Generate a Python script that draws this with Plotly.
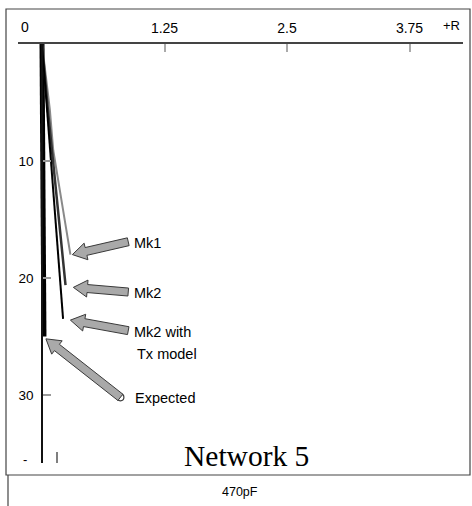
import plotly.graph_objects as go

# Impedance loci for network 5 (R horizontal, -X downward)
expected_r = [0.0, 0.02]
expected_x = [0.0, 25.0]
mk1_r = [0.0, 0.08, 0.115, 0.29]
mk1_x = [0.0, 5.6, 9.1, 18.0]
mk2_r = [0.0, 0.06, 0.24]
mk2_x = [0.0, 5.6, 20.6]
mk2tx_r = [0.0, 0.215]
mk2tx_x = [0.0, 23.5]

x_tick_vals = [1.25, 2.5, 3.75]
x_tick_text = ["1.25", "2.5", "3.75"]
y_tick_vals = [10, 20, 30]
y_tick_text = ["10", "20", "30"]

# Callouts: (label lines, arrow tip (R, X), arrow tail (R, X), text gap in px)
callouts = [
    (["Mk1"], (0.31, 18.0), (0.88, 16.9), 4),
    (["Mk2"], (0.32, 20.8), (0.88, 21.2), 4),
    (["Mk2 with", "Tx model"], (0.29, 23.6), (0.88, 24.5), 4),
    (["Expected"], (0.04, 25.2), (0.80, 30.2), 13),
]

W, H = 472, 506
ML, MR, MT, MB = 18, 9, 44, 43
PW, PH = W - ML - MR, H - MT - MB
X_RANGE = [-24 / 98, (PW - 24) / 98]
Y_RANGE = [PH / 11.7, 0]

SANS = "Liberation Sans, Arial, sans-serif"
SERIF = "Liberation Serif, Times New Roman, serif"


def to_px(xv, yv):
    px = ML + (xv - X_RANGE[0]) / (X_RANGE[1] - X_RANGE[0]) * PW
    py = MT + (yv - Y_RANGE[1]) / (Y_RANGE[0] - Y_RANGE[1]) * PH
    return px, py


def to_data(px, py):
    xv = X_RANGE[0] + (px - ML) / PW * (X_RANGE[1] - X_RANGE[0])
    yv = Y_RANGE[1] + (py - MT) / PH * (Y_RANGE[0] - Y_RANGE[1])
    return xv, yv


def px_paper(px, py):
    return (px - ML) / PW, (H - MB - py) / PH


def block_arrow(tip, tail, shaft=4.0, head=8.5, head_len=14.0):
    tx, ty = to_px(*tip)
    sx, sy = to_px(*tail)
    dx, dy = tx - sx, ty - sy
    n = (dx * dx + dy * dy) ** 0.5
    ux, uy = dx / n, dy / n
    nx, ny = -uy, ux
    bx, by = tx - ux * head_len, ty - uy * head_len
    pts = [
        (sx + nx * shaft, sy + ny * shaft),
        (bx + nx * shaft, by + ny * shaft),
        (bx + nx * head, by + ny * head),
        (tx, ty),
        (bx - nx * head, by - ny * head),
        (bx - nx * shaft, by - ny * shaft),
        (sx - nx * shaft, sy - ny * shaft),
    ]
    d = [to_data(*p) for p in pts]
    return "M " + " L ".join(f"{a:.5f},{b:.5f}" for a, b in d) + " Z"


fig = go.Figure()
fig.add_trace(go.Scatter(x=expected_r, y=expected_x, mode="lines",
                         line=dict(color="#000000", width=5), name="Expected"))
fig.add_trace(go.Scatter(x=mk1_r, y=mk1_x, mode="lines",
                         line=dict(color="#8a8a8a", width=2), name="Mk1"))
fig.add_trace(go.Scatter(x=mk2_r, y=mk2_x, mode="lines",
                         line=dict(color="#333333", width=2.5), name="Mk2"))
fig.add_trace(go.Scatter(x=mk2tx_r, y=mk2tx_x, mode="lines",
                         line=dict(color="#000000", width=2), name="Mk2 with Tx model"))

shapes = []
annotations = []
for lines, tip, tail, gap in callouts:
    shapes.append(dict(type="path", xref="x", yref="y", path=block_arrow(tip, tail),
                       fillcolor="#a9a9a9", line=dict(color="#3a3a3a", width=1)))
    sx, sy = to_px(*tail)
    for i, txt in enumerate(lines):
        lx, ly = to_data(sx + gap + (3 if i else 0), sy + 1 + 22 * i)
        annotations.append(dict(x=lx, y=ly, xref="x", yref="y", text=txt,
                                showarrow=False, xanchor="left", yanchor="middle",
                                font=dict(family=SANS, size=14.5, color="#000000")))

# open ring at the tail of the "Expected" arrow
ex_tail = callouts[-1][2]
fig.add_trace(go.Scatter(x=[ex_tail[0]], y=[ex_tail[1]], mode="markers",
                         marker=dict(symbol="circle", size=7, color="white",
                                     line=dict(color="#3a3a3a", width=1.2)),
                         showlegend=False))

# frame around the figure and caption strip
fx0, fy0 = px_paper(6, 9)
fx1, fy1 = px_paper(470, 475)
shapes.append(dict(type="rect", xref="paper", yref="paper", x0=fx0, y0=fy1, x1=fx1, y1=fy0,
                   line=dict(color="#444444", width=1.2)))
lx0, ly0 = px_paper(8, 475)
lx1, ly1 = px_paper(8, 506)
shapes.append(dict(type="line", xref="paper", yref="paper", x0=lx0, y0=ly0, x1=lx1, y1=ly1,
                   line=dict(color="#444444", width=1.2)))
mx0, my0 = px_paper(57, 452)
mx1, my1 = px_paper(57, 463)
shapes.append(dict(type="line", xref="paper", yref="paper", x0=mx0, y0=my0, x1=mx1, y1=my1,
                   line=dict(color="#555555", width=1.5)))


def paper_text(px, py, txt, size, family=SANS, anchor="center"):
    x, y = px_paper(px, py)
    annotations.append(dict(x=x, y=y, xref="paper", yref="paper", text=txt, showarrow=False,
                            xanchor=anchor, yanchor="middle",
                            font=dict(family=family, size=size, color="#000000")))


paper_text(24.5, 27, "0", 14)
paper_text(451, 25, "+R", 13)
paper_text(25, 459, "-", 13)
paper_text(247, 456, "Network 5", 29.5, family=SERIF)
paper_text(240, 492, "470pF", 12.5)

fig.update_layout(
    width=W, height=H, autosize=False,
    margin=dict(l=ML, r=MR, t=MT, b=MB, pad=0),
    paper_bgcolor="white", plot_bgcolor="white",
    showlegend=False,
    shapes=shapes, annotations=annotations,
    xaxis=dict(range=X_RANGE, side="top", showline=True, linecolor="#444444", linewidth=1.5,
               tickvals=x_tick_vals, ticktext=x_tick_text, ticks="inside", ticklen=8,
               tickcolor="#aaaaaa", tickwidth=1.5, showgrid=False, zeroline=False,
               tickfont=dict(family=SANS, size=14, color="#000000"), ticklabelstandoff=4),
    yaxis=dict(range=Y_RANGE, anchor="free", position=24 / PW, showline=True,
               linecolor="#111111", linewidth=1.5, tickvals=y_tick_vals, ticktext=y_tick_text,
               ticks="inside", ticklen=8, tickcolor="#999999", tickwidth=1.5,
               showgrid=False, zeroline=False, ticklabelstandoff=5,
               tickfont=dict(family=SANS, size=13.5, color="#000000")),
)

fig.write_html("out.html")
